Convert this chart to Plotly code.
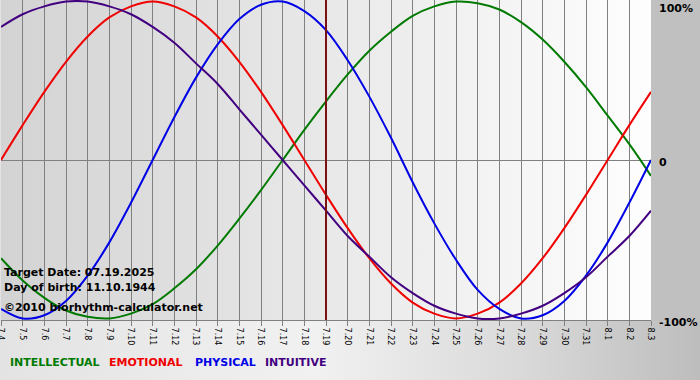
import base64
import plotly.graph_objects as go

# ---- data ----
dates = ["7.4", "7.5", "7.6", "7.7", "7.8", "7.9", "7.10", "7.11", "7.12", "7.13",
         "7.14", "7.15", "7.16", "7.17", "7.18", "7.19", "7.20", "7.21", "7.22", "7.23",
         "7.24", "7.25", "7.26", "7.27", "7.28", "7.29", "7.30", "7.31", "8.1", "8.2", "8.3"]

intellectual = [-62, -76, -87, -95, -99, -100, -97, -91, -81, -69, -54, -37, -19, 0, 19, 37,
                54, 69, 81, 91, 97, 100, 99, 95, 87, 76, 62, 46, 28, 10, -10]
emotional = [0, 22, 43, 62, 78, 90, 97, 100, 97, 90, 78, 62, 43, 22, 0, -22, -43, -62, -78,
             -90, -97, -100, -97, -90, -78, -62, -43, -22, 0, 22, 43]
physical = [-94, -100, -98, -89, -73, -52, -27, 0, 27, 52, 73, 89, 98, 100, 94, 82, 63, 40,
            14, -14, -40, -63, -82, -94, -100, -98, -89, -73, -52, -27, 0]
intuitive = [84, 92, 97, 100, 100, 97, 92, 84, 74, 61, 48, 32, 16, 0, -16, -32, -48, -61,
             -74, -84, -92, -97, -100, -100, -97, -92, -84, -74, -61, -48, -32]

series_names = ["INTELLECTUAL", "EMOTIONAL", "PHYSICAL", "INTUITIVE"]
series_values = [intellectual, emotional, physical, intuitive]
series_colors = ["#007a00", "#f00000", "#0000e6", "#420080"]
legend_x = [8, 107, 193, 263]

target_date = "7.19"
y_labels = ["100%", "0", "-100%"]
y_label_pix = [8, 162, 322]

# ---- geometry ----
W, H = 700, 380
ML, MR, MT, MB = 1, 49, 0, 60
PW, PH = W - ML - MR, H - MT - MB


def px(x):
    return (x - ML) / PW


def py(y):
    return 1 - (y - MT) / PH


# background gradients as an SVG image
svg = f'''<svg xmlns="http://www.w3.org/2000/svg" width="{W}" height="{H}" viewBox="0 0 {W} {H}" preserveAspectRatio="none">
<defs>
<linearGradient id="bg" x1="0" y1="0" x2="1" y2="0">
<stop offset="0" stop-color="#e3e3e3"/><stop offset="0.45" stop-color="#f1f1f1"/>
<stop offset="0.75" stop-color="#d9d9d9"/><stop offset="1" stop-color="#bdbdbd"/>
</linearGradient>
<linearGradient id="pl" x1="0" y1="0" x2="1" y2="0">
<stop offset="0" stop-color="#d3d3d3"/><stop offset="1" stop-color="#fefefe"/>
</linearGradient>
</defs>
<rect x="0" y="0" width="{W}" height="{H}" fill="url(#bg)"/>
<rect x="{ML + PW}" y="0" width="{MR}" height="{PH + 1}" fill="#c0c0c0"/>
<rect x="{ML}" y="0" width="{PW}" height="{PH}" fill="url(#pl)"/>
</svg>'''
svg_uri = "data:image/svg+xml;base64," + base64.b64encode(svg.encode()).decode()

fig = go.Figure()
for name, vals, col in zip(series_names, series_values, series_colors):
    fig.add_trace(go.Scatter(x=dates, y=vals, mode="lines", name=name,
                             line=dict(color=col, width=2, shape="spline"),
                             hoverinfo="skip"))

ti = dates.index(target_date)
fig.add_shape(type="line", xref="x", yref="paper", x0=ti, x1=ti, y0=0, y1=1,
              line=dict(color="#7a1212", width=2), layer="above")

annotations = []
info = [("Target Date: 07.19.2025", 272), ("Day of birth: 11.10.1944", 287),
        ("©2010 biorhythm-calculator.net", 307)]
for txt, yy in info:
    annotations.append(dict(text=txt, xref="paper", yref="paper", x=px(2), y=py(yy),
                            xanchor="left", yanchor="middle", showarrow=False,
                            font=dict(family="DejaVu Sans", size=11, color="#000000",
                                      weight="bold")))
for lab, yy in zip(y_labels, y_label_pix):
    annotations.append(dict(text=lab, xref="paper", yref="paper", x=px(657), y=py(yy),
                            xanchor="left", yanchor="middle", showarrow=False,
                            font=dict(family="DejaVu Sans", size=11, color="#000000",
                                      weight="bold")))
for name, col, lx in zip(series_names, series_colors, legend_x):
    annotations.append(dict(text=name, xref="paper", yref="paper", x=px(lx), y=py(362),
                            xanchor="left", yanchor="middle", showarrow=False,
                            font=dict(family="DejaVu Sans", size=11, color=col,
                                      weight="bold")))

fig.update_layout(
    width=W, height=H,
    margin=dict(l=ML, r=MR, t=MT, b=MB, pad=0, autoexpand=False),
    paper_bgcolor="#e0e0e0", plot_bgcolor="rgba(0,0,0,0)",
    showlegend=False,
    annotations=annotations,
    images=[dict(source=svg_uri, xref="paper", yref="paper", x=-ML / PW, y=1 + MT / PH,
                 sizex=W / PW, sizey=H / PH, xanchor="left", yanchor="top",
                 sizing="stretch", layer="below")],
    xaxis=dict(type="category", range=[0, len(dates) - 1], showgrid=True,
               gridcolor="#808080", gridwidth=1, showline=True, linecolor="#808080",
               linewidth=1, mirror=True, ticks="outside", ticklen=5, tickcolor="#808080",
               tickangle=90, tickfont=dict(family="DejaVu Sans", size=8, color="#000000"),
               zeroline=False, fixedrange=True, automargin=False),
    yaxis=dict(range=[-101, 101], showgrid=False, showticklabels=False, ticks="",
               zeroline=True, zerolinecolor="#808080", zerolinewidth=1,
               showline=False, fixedrange=True, automargin=False),
)

fig.write_html("out.html", config={"displayModeBar": False},
               post_script="document.body.style.margin='0';document.body.style.overflow='hidden';")
